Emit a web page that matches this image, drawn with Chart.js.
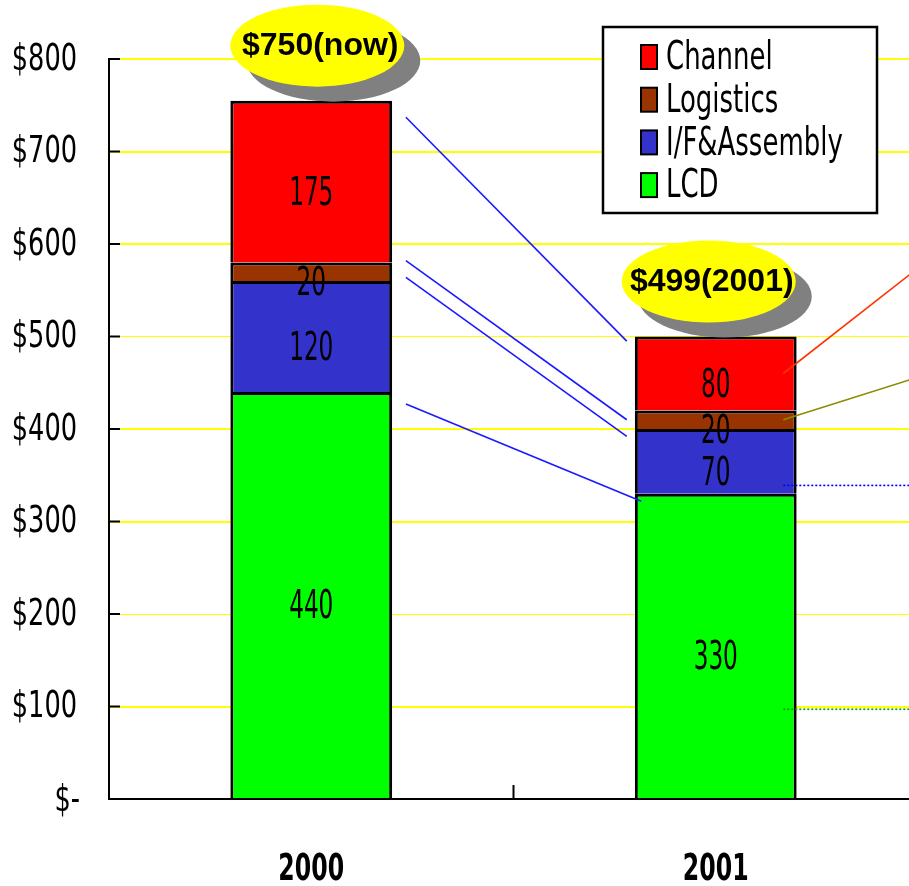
<!DOCTYPE html>
<html>
<head>
    <title>Cost breakdown 2000 / 2001</title>
    <script src="https://cdn.jsdelivr.net/npm/chart.js"></script>
    <style>
        html, body { margin: 0; padding: 0; background: #fff; overflow: hidden; }
        #wrap { width: 918px; height: 886px; }
    </style>
</head>
<body>
    <div id="wrap"><canvas id="costChart" width="918" height="886"></canvas></div>

    <script>
        const years = ['2000', '2001'];
        const lcd = [440, 330];
        const assembly = [120, 70];
        const logistics = [20, 20];
        const channel = [175, 80];
        const callouts = ['$750(now)', '$499(2001)'];

        // hand drawn connectors between the two bars: value at 2000 side -> value at 2001 side
        const bridgeFrom = [737, 582, 564, 427];
        const bridgeTo = [495, 410, 392, 322];
        // lines leaving the 2001 bar towards the right edge
        const exitFrom = [460, 410, 339, 97];
        const exitTo = [574, 456, 339, 97];

        // no narrow font installed, so condensed text gets squeezed a bit more
        const NARROW = "'Liberation Sans Narrow', 'Arial Narrow', 'DejaVu Sans Condensed', sans-serif";
        const WIDE = "'Liberation Sans', Arial, sans-serif";

        function squeezeText(ctx, text, x, y, font, sx) {
            ctx.save();
            ctx.font = font;
            ctx.translate(x, y);
            ctx.scale(sx, 1);
            ctx.fillText(text, 0, 0);
            ctx.restore();
        }

        function line(ctx, x1, y1, x2, y2, color, width, dash) {
            ctx.save();
            ctx.strokeStyle = color;
            ctx.lineWidth = width;
            ctx.setLineDash(dash || []);
            ctx.beginPath();
            ctx.moveTo(x1, y1);
            ctx.lineTo(x2, y2);
            ctx.stroke();
            ctx.restore();
        }

        const decorations = {
            id: 'decorations',
            afterDatasetsDraw(chart) {
                const {ctx, chartArea, scales: {x, y}} = chart;
                const step = x.getPixelForValue(1) - x.getPixelForValue(0);
                const xAt = v => x.getPixelForValue(0) + v * step;

                // inner tick marks + axis labels
                ctx.save();
                ctx.fillStyle = '#000';
                ctx.textBaseline = 'middle';
                ctx.textAlign = 'right';
                y.ticks.forEach(t => {
                    const py = y.getPixelForValue(t.value);
                    if (t.value > 0) {
                        line(ctx, chartArea.left, py, chartArea.left + 11, py, '#000', 2);
                        squeezeText(ctx, '$' + t.value, chartArea.left - 32, py + 1, '38px ' + NARROW, 0.75);
                    } else {
                        squeezeText(ctx, '$-', chartArea.left - 29, py + 2, '38px ' + NARROW, 0.75);
                    }
                });
                ctx.textAlign = 'center';
                years.forEach((yr, i) => {
                    squeezeText(ctx, yr, x.getPixelForValue(i), chartArea.bottom + 71, 'bold 37px ' + NARROW, 0.71);
                });
                ctx.restore();
                const mid = xAt(0.5);
                line(ctx, mid, chartArea.bottom, mid, chartArea.bottom - 14, '#000', 2);

                // connectors
                bridgeFrom.forEach((v, i) => {
                    const endFrac = i === 3 ? 0.816 : 0.78;
                    line(ctx, xAt(0.234), y.getPixelForValue(v), xAt(endFrac), y.getPixelForValue(bridgeTo[i]), '#1a1aff', 1.6);
                });
                const exitStyles = [
                    ['#ff3300', []], ['#8c8c00', []], ['#0000ff', [2, 2]], ['#00a000', [2, 2]]
                ];
                exitFrom.forEach((v, i) => {
                    line(ctx, xAt(1.167), y.getPixelForValue(v), xAt(1.5), y.getPixelForValue(exitTo[i]),
                        exitStyles[i][0], 1.6, exitStyles[i][1]);
                });

                // segment values
                ctx.fillStyle = '#000';
                ctx.textAlign = 'center';
                ctx.textBaseline = 'middle';
                chart.data.datasets.forEach((ds, di) => {
                    chart.getDatasetMeta(di).data.forEach((bar, i) => {
                        squeezeText(ctx, String(ds.data[i]), bar.x, (bar.y + bar.base) / 2 + 13,
                            '39px ' + NARROW, 0.66);
                    });
                });

                // price callouts
                years.forEach((yr, i) => {
                    const total = lcd[i] + assembly[i] + logistics[i] + channel[i];
                    const cx = x.getPixelForValue(i) + (i === 0 ? 6 : -7);
                    const cy = y.getPixelForValue(total) - 55;
                    ctx.save();
                    ctx.fillStyle = '#808080';
                    ctx.beginPath();
                    ctx.ellipse(cx + 16, cy + 15, 87, 41, 0, 0, Math.PI * 2);
                    ctx.fill();
                    ctx.fillStyle = '#ffff00';
                    ctx.beginPath();
                    ctx.ellipse(cx, cy, 87, 41, 0, 0, Math.PI * 2);
                    ctx.fill();
                    ctx.fillStyle = '#000';
                    ctx.font = 'bold 32px ' + WIDE;
                    ctx.textAlign = 'center';
                    ctx.textBaseline = 'middle';
                    ctx.fillText(callouts[i], cx + 3, cy + 1);
                    ctx.restore();
                });

                // legend box
                const lx = 603, ly = 27, lw = 274, lh = 186;
                ctx.save();
                ctx.fillStyle = '#fff';
                ctx.fillRect(lx, ly, lw, lh);
                ctx.strokeStyle = '#000';
                ctx.lineWidth = 2.5;
                ctx.strokeRect(lx, ly, lw, lh);
                const items = chart.data.datasets.slice().reverse();
                items.forEach((ds, k) => {
                    const cyRow = 57 + k * 42.7;
                    ctx.fillStyle = ds.backgroundColor;
                    ctx.fillRect(641, cyRow - 12, 16, 24);
                    ctx.strokeStyle = '#000';
                    ctx.lineWidth = 2;
                    ctx.strokeRect(641, cyRow - 12, 16, 24);
                    ctx.fillStyle = '#000';
                    ctx.textAlign = 'left';
                    ctx.textBaseline = 'middle';
                    squeezeText(ctx, ds.label, 666, cyRow + 2, '39px ' + NARROW, 0.74);
                });
                ctx.restore();
            }
        };

        const mkSet = (label, data, color) => ({
            label: label,
            data: data,
            backgroundColor: color,
            borderColor: '#000',
            borderWidth: 3,
            borderSkipped: 'start',
            barPercentage: 0.4,
            categoryPercentage: 1.0
        });

        new Chart(document.getElementById('costChart'), {
            type: 'bar',
            data: {
                labels: years,
                datasets: [
                    mkSet('LCD', lcd, '#00ff00'),
                    mkSet('I/F&Assembly', assembly, '#3333cc'),
                    mkSet('Logistics', logistics, '#993300'),
                    mkSet('Channel', channel, '#ff0000')
                ]
            },
            options: {
                responsive: false,
                animation: false,
                layout: { padding: { top: 59, left: 0, right: 0, bottom: 0 } },
                plugins: {
                    legend: { display: false },
                    tooltip: { enabled: false }
                },
                scales: {
                    x: {
                        stacked: true,
                        grid: { display: true, drawOnChartArea: false, drawTicks: false },
                        border: { color: '#000', width: 2 },
                        ticks: { display: false },
                        afterFit(s) { s.height = 87; }
                    },
                    y: {
                        stacked: true,
                        min: 0,
                        max: 800,
                        grid: {
                            color: c => (c.tick && c.tick.value === 0) ? 'rgba(0,0,0,0)' : '#ffff00',
                            lineWidth: c => (c.tick && (c.tick.value === 500 || c.tick.value === 200)) ? 1 : 2,
                            drawTicks: false
                        },
                        border: { color: '#000', width: 2 },
                        ticks: { stepSize: 100, display: false },
                        afterFit(s) { s.width = 109; }
                    }
                }
            },
            plugins: [decorations]
        });
    </script>
</body>
</html>
